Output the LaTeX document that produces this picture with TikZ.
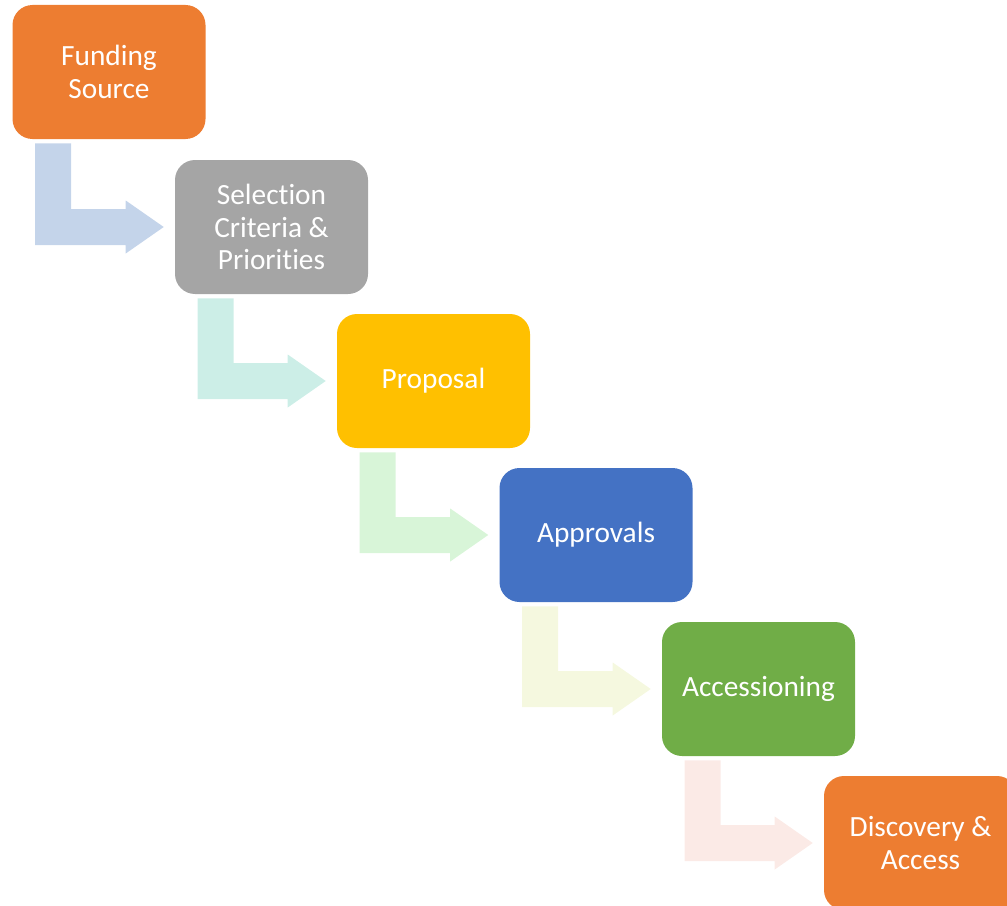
\documentclass[tikz,border=0pt]{standalone}
\usepackage{fontspec}
\setmainfont{Carlito}[Ligatures={NoCommon,NoRare,NoDiscretionary}]
\usetikzlibrary{positioning,calc}
\definecolor{stepOrange}{HTML}{ED7D31}
\definecolor{stepGray}{HTML}{A5A5A5}
\definecolor{stepGold}{HTML}{FFC000}
\definecolor{stepBlue}{HTML}{4472C4}
\definecolor{stepGreen}{HTML}{70AD47}
\definecolor{flowBlue}{HTML}{C4D4EA}
\definecolor{flowTeal}{HTML}{CCEEE7}
\definecolor{flowGreen}{HTML}{D8F5D8}
\definecolor{flowLime}{HTML}{F5F8DF}
\definecolor{flowPink}{HTML}{FBEAE6}
\tikzset{every picture/.style={x=0.75pt,y=-0.75pt}}
\tikzset{stage/.style={rounded corners=15pt,minimum width=144.75pt,minimum height=100.5pt,
  inner sep=0pt,align=center,text=white,font=\fontsize{22}{24.5}\selectfont}}

\begin{document}
\begin{tikzpicture}
  \useasboundingbox (0,0) rectangle (1007,906);
  \clip (0,0) rectangle (1007,906);
  % stages
  \node[stage,fill=stepOrange] (fund) at (109,72) {Funding\\Source};
  \node[stage,fill=stepGray] (sel) at (271.5,227) {Selection\\Criteria \&\\Priorities};
  \node[stage,fill=stepGold] (prop) at (433.5,381) {Proposal};
  \node[stage,fill=stepBlue] (appr) at (596,535) {Approvals};
  \node[stage,fill=stepGreen] (accn) at (758.5,689) {Accessioning};
  \node[stage,fill=stepOrange] (disc) at (920.5,843) {Discovery \&\\Access};
  % bent arrows
  \foreach \from/\to/\col in {fund/sel/flowBlue,sel/prop/flowTeal,prop/appr/flowGreen,
      appr/accn/flowLime,accn/disc/flowPink}
    \fill[\col] ($(\from.south west)+(23,4)$) coordinate (p) -- ($(\from.south west)+(59,4)$)
      |- ($(\to.west)+(-49,-18)$) -- ($(\to.west)+(-49,-26.5)$) -- ($(\to.west)+(-11,0)$)
      -- ($(\to.west)+(-49,26.5)$) -- ($(\to.west)+(-49,18)$) -| (p) -- cycle;
\end{tikzpicture}
\end{document}
